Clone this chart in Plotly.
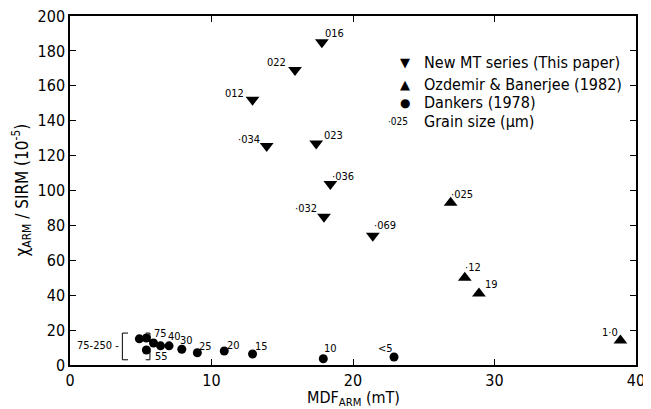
import plotly.graph_objects as go

FONT = "DejaVu Sans Condensed, Liberation Sans Narrow, DejaVu Sans"

# New MT series (this paper)
mt_x = [17.8, 15.9, 12.9, 13.9, 17.4, 18.4, 17.95, 21.4]
mt_y = [185, 169, 152, 125.5, 127, 103.7, 85, 74]
mt_lab = ["016", "022", "012", "·034", "023", "·036", "·032", "·069"]
mt_off = [(13, -9), (-18, -8), (-18, -6), (-18, -7), (17, -8), (13, -8), (-18, -8), (12, -10)]

# Ozdemir & Banerjee (1982)
oz_x = [26.9, 27.9, 28.9, 38.9]
oz_y = [93, 50, 41, 14]
oz_lab = ["·025", "·12", "19", "1·0"]
oz_off = [(11, -8), (8, -10), (13, -9), (-10, -8)]

# Dankers (1978)
dk_x = [4.9, 5.4, 5.9, 5.4, 6.4, 7.0, 7.9, 9.0, 10.9, 12.9, 17.9, 22.9]
dk_y = [15, 15.5, 12.6, 8.6, 11, 11, 9, 7, 8, 6.3, 3.6, 4.6]
dk_lab = ["", "75", "", "55", "", "40", "30", "25", "20", "15", "10", "<5"]
dk_off = [(0, 0), (14, -4), (0, 0), (15, 7), (0, 0), (5, -9), (5, -9), (8, -6), (9, -6), (9, -8), (7, -10), (-9, -8)]

x_ticks = [0, 10, 20, 30, 40]
y_ticks = [0, 20, 40, 60, 80, 100, 120, 140, 160, 180, 200]

legend_names = ["New MT series (This paper)", "Ozdemir & Banerjee (1982)", "Dankers (1978)"]
legend_glyphs = ["▼", "▲", "●"]

fig = go.Figure()
fig.add_trace(go.Scatter(x=mt_x, y=mt_y, mode="markers", name=legend_names[0],
                         marker=dict(symbol="triangle-down", size=12, color="black")))
fig.add_trace(go.Scatter(x=oz_x, y=oz_y, mode="markers", name=legend_names[1],
                         marker=dict(symbol="triangle-up", size=12, color="black")))
fig.add_trace(go.Scatter(x=dk_x, y=dk_y, mode="markers", name=legend_names[2],
                         marker=dict(symbol="circle", size=9, color="black")))

anns = []
for xs, ys, labs, offs in [(mt_x, mt_y, mt_lab, mt_off), (oz_x, oz_y, oz_lab, oz_off),
                           (dk_x, dk_y, dk_lab, dk_off)]:
    for x, y, t, (dx, dy) in zip(xs, ys, labs, offs):
        if not t:
            continue
        anns.append(dict(x=x, y=y, text=t, showarrow=False, xshift=dx, yshift=-dy,
                         font=dict(size=11, family=FONT, color="black")))

# bracket label for the 75-250 group
anns.append(dict(x=3.6, y=10.9, text="75-250 -", showarrow=False, xanchor="right",
                 font=dict(size=11, family=FONT, color="black")))

# legend drawn as text rows
leg_rows_y = [0.868, 0.805, 0.751]
for gy, g, name in zip(leg_rows_y, legend_glyphs, legend_names):
    anns.append(dict(x=0.592, y=gy, xref="paper", yref="paper", text=g, showarrow=False,
                     xanchor="center", yanchor="middle",
                     font=dict(size=13 if g != "●" else 12, family="DejaVu Sans", color="black")))
    anns.append(dict(x=0.622, y=gy, xref="paper", yref="paper", text=name, showarrow=False,
                     xanchor="left", yanchor="middle",
                     font=dict(size=16, family=FONT, color="black")))
anns.append(dict(x=0.558, y=0.697, xref="paper", yref="paper", text="·025", showarrow=False,
                 xanchor="left", yanchor="middle", font=dict(size=10, family=FONT, color="black")))
anns.append(dict(x=0.622, y=0.697, xref="paper", yref="paper", text="Grain size (μm)",
                 showarrow=False, xanchor="left", yanchor="middle",
                 font=dict(size=16, family=FONT, color="black")))

# axis titles
anns.append(dict(x=0.5, y=0, xref="paper", yref="paper", yshift=-33, text="MDF<sub>ARM</sub> (mT)",
                 showarrow=False, xanchor="center", yanchor="middle",
                 font=dict(size=16, family=FONT, color="black")))
anns.append(dict(x=0, y=0.5, xref="paper", yref="paper", xshift=-48, textangle=-90,
                 text="χ<sub>ARM</sub> / SIRM (10<sup>-5</sup>)", showarrow=False,
                 xanchor="center", yanchor="middle",
                 font=dict(size=17, family=FONT, color="black")))

shapes = [
    dict(type="path", xref="x", yref="y",
         path="M 4.1 18.3 L 3.7 18.3 L 3.7 3.0 L 4.1 3.0", line=dict(color="black", width=1)),
    dict(type="path", xref="x", yref="y",
         path="M 5.35 18.3 L 5.65 18.3 L 5.65 13.2", line=dict(color="black", width=1)),
    dict(type="path", xref="x", yref="y",
         path="M 5.35 3.0 L 5.65 3.0 L 5.65 8.0", line=dict(color="black", width=1)),
]

axis_common = dict(showline=True, linecolor="black", linewidth=1.5, mirror="ticks",
                   ticks="inside", ticklen=6, tickcolor="black", showgrid=False, zeroline=False,
                   automargin=False, ticklabeloverflow="allow",
                   tickfont=dict(size=16, family=FONT, color="black"))

fig.update_layout(
    width=643, height=401,
    margin=dict(l=62, r=15, t=8, b=44),
    paper_bgcolor="white", plot_bgcolor="white",
    font=dict(family=FONT, color="black"),
    showlegend=False,
    xaxis=dict(range=[0, 40], tickvals=x_ticks, **axis_common),
    yaxis=dict(range=[0, 200], tickvals=y_ticks, **axis_common),
    annotations=anns,
    shapes=shapes,
)

fig.write_html("out.html")
